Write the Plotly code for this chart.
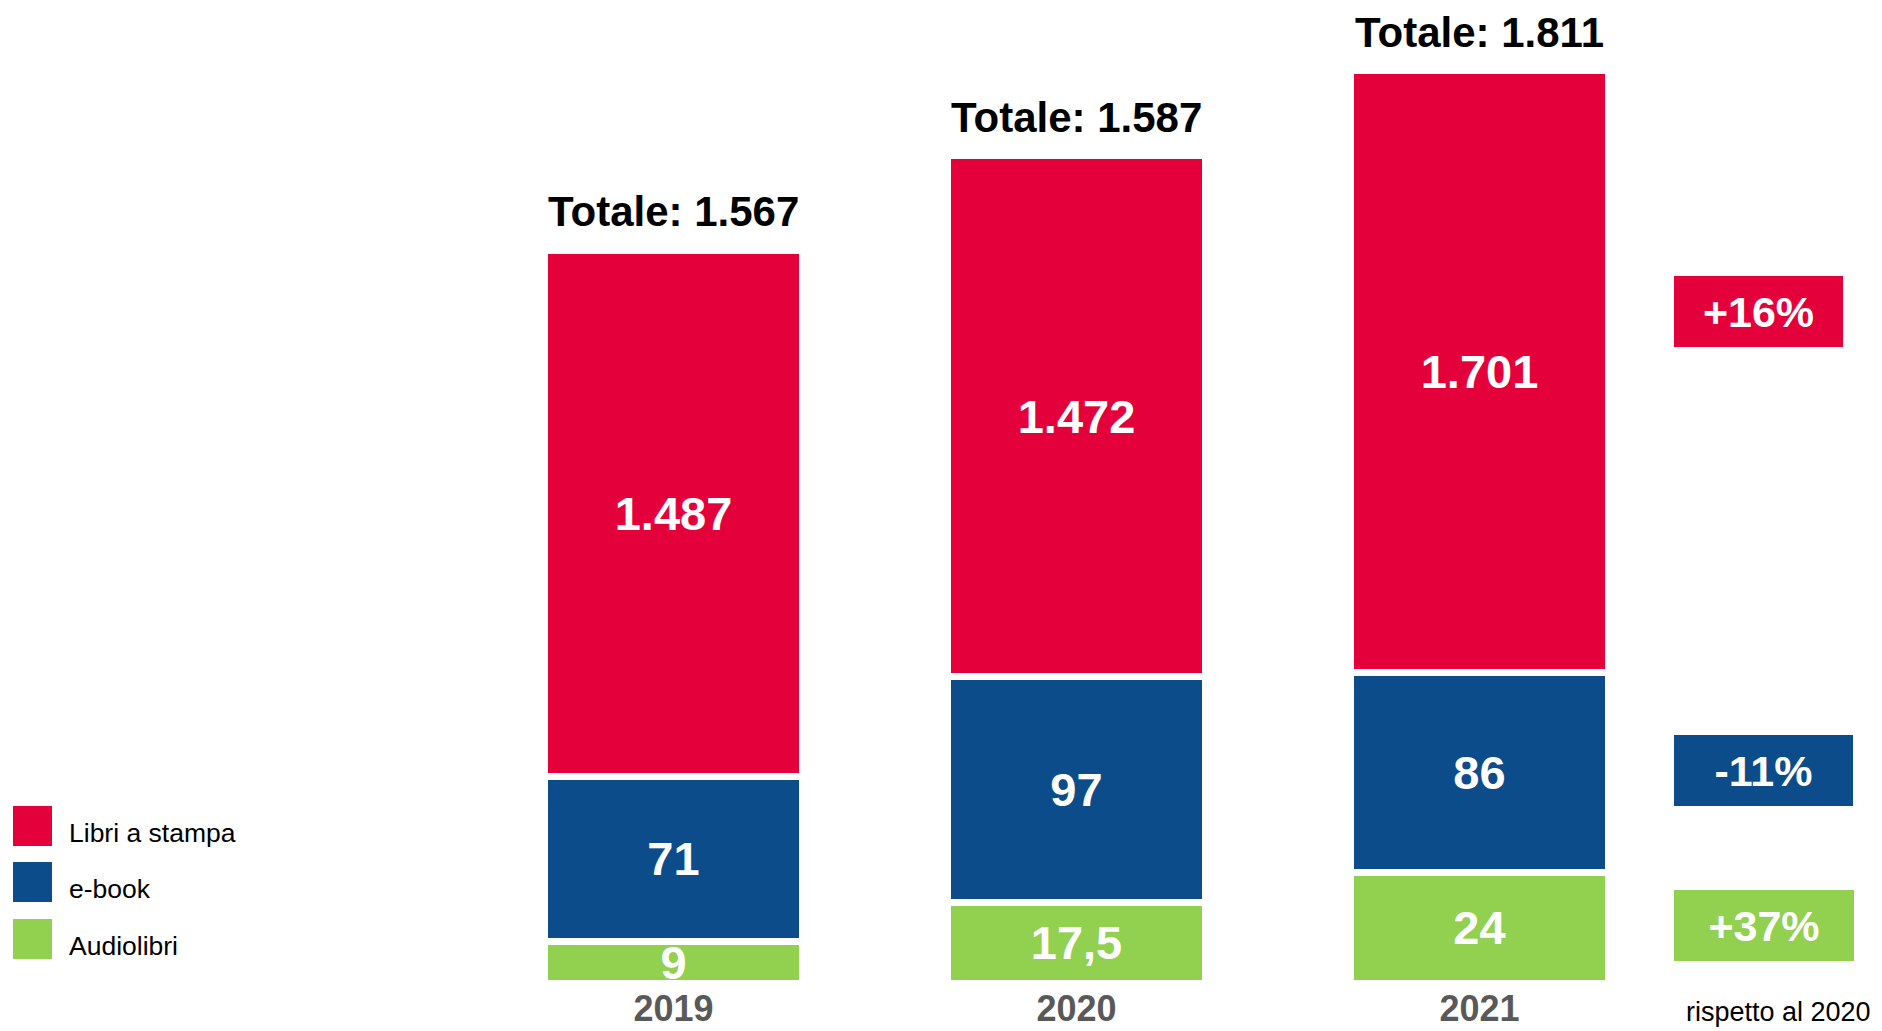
import plotly.graph_objects as go

# ---------------- data ----------------
anni = ["2019", "2020", "2021"]
libri_a_stampa = [1487, 1472, 1701]
ebook = [71, 97, 86]
audiolibri = [9, 17.5, 24]
totali = [1567, 1587, 1811]
variazioni_2021 = ["+16%", "-11%", "+37%"]  # Libri a stampa, e-book, Audiolibri (rispetto al 2020)

# ---------------- style ----------------
W, H = 1882, 1031
OFF = 8  # default page body margin
ROSSO, BLU, VERDE = "#E4003B", "#0D4C8B", "#92D050"
FONT = "Liberation Sans, Arial, sans-serif"

# The infographic uses a broken (non-proportional) scale for each segment type:
# each series is drawn with its own display scale factor.
scala = {"Libri a stampa": 0.3536, "e-book": 2.33, "Audiolibri": 4.6}


def fmt_it(v):
    if float(v).is_integer():
        return f"{int(v):,}".replace(",", ".")
    return f"{v:,}".replace(",", "X").replace(".", ",").replace("X", ".")


def px_x(x):
    return (x - OFF) / W


def px_y(y):
    return 1 - (y - OFF) / H


BASE_Y = 983  # screen pixel of the bars' baseline

fig = go.Figure()
serie = [
    ("Audiolibri", audiolibri, VERDE),
    ("e-book", ebook, BLU),
    ("Libri a stampa", libri_a_stampa, ROSSO),
]
for nome, valori, colore in serie:
    fig.add_trace(go.Bar(
        x=anni,
        y=[v * scala[nome] for v in valori],
        customdata=valori,
        name=nome,
        marker=dict(color=colore, line=dict(color="white", width=7)),
        text=[fmt_it(v) for v in valori],
        textposition="inside",
        insidetextanchor="middle",
        textangle=0,
        constraintext="none",
        textfont=dict(color="white", size=47, family=FONT, weight="bold"),
        hovertemplate="%{x} – " + nome + ": %{customdata}<extra></extra>",
        showlegend=False,
    ))

# totals above stacks
altezze = [sum(s[1][i] * scala[s[0]] for s in serie) for i in range(len(anni))]
annotations = []
for anno, tot, h in zip(anni, totali, altezze):
    annotations.append(dict(
        x=anno, y=h, xref="x", yref="y", text=f"<b>Totale: {fmt_it(tot)}</b>",
        showarrow=False, yanchor="bottom", yshift=13,
        font=dict(size=42, color="black", family=FONT),
    ))

# variation boxes on the right
box_pos = [(1674, 312, 169, ROSSO), (1674, 770, 179, BLU), (1674, 925, 180, VERDE)]
for testo, (bx, by, bw, col) in zip(variazioni_2021, box_pos):
    annotations.append(dict(
        x=px_x(bx), y=px_y(by), xref="paper", yref="paper", xanchor="left", yanchor="middle",
        text=f"<b>{testo}</b>", showarrow=False, bgcolor=col, width=bw, height=71,
        borderpad=0, borderwidth=0, align="center", valign="middle",
        font=dict(size=43, color="white", family=FONT),
    ))
annotations.append(dict(
    x=px_x(1684), y=px_y(1012), xref="paper", yref="paper", xanchor="left", yanchor="middle",
    text="rispetto al 2020", showarrow=False, font=dict(size=27, color="black", family=FONT),
))

# manual legend (large square swatches)
shapes = []
legenda = [("Libri a stampa", ROSSO, 806), ("e-book", BLU, 862), ("Audiolibri", VERDE, 919)]
for nome, col, ty in legenda:
    shapes.append(dict(
        type="rect", xref="paper", yref="paper",
        x0=px_x(13), x1=px_x(52), y0=px_y(ty + 40), y1=px_y(ty),
        fillcolor=col, line=dict(width=0),
    ))
    annotations.append(dict(
        x=px_x(67), y=px_y(ty + 27), xref="paper", yref="paper", xanchor="left", yanchor="middle",
        text=nome, showarrow=False, font=dict(size=26.5, color="black", family=FONT),
    ))

fig.update_layout(
    width=W, height=H,
    template="none",
    barmode="stack",
    bargap=0.36,
    margin=dict(l=0, r=0, t=0, b=0),
    paper_bgcolor="white", plot_bgcolor="white",
    font=dict(family=FONT),
    xaxis=dict(
        domain=[px_x(472), px_x(1681)], showgrid=False, zeroline=False, showline=False,
        ticks="", automargin=False, ticklabelstandoff=1,
        tickfont=dict(size=36, color="#595959", family=FONT, weight="bold"),
    ),
    yaxis=dict(
        domain=[px_y(BASE_Y), px_y(OFF)], range=[0, BASE_Y - OFF], visible=False, automargin=False,
    ),
    annotations=annotations,
    shapes=shapes,
    showlegend=False,
)

fig.write_html("out.html")
